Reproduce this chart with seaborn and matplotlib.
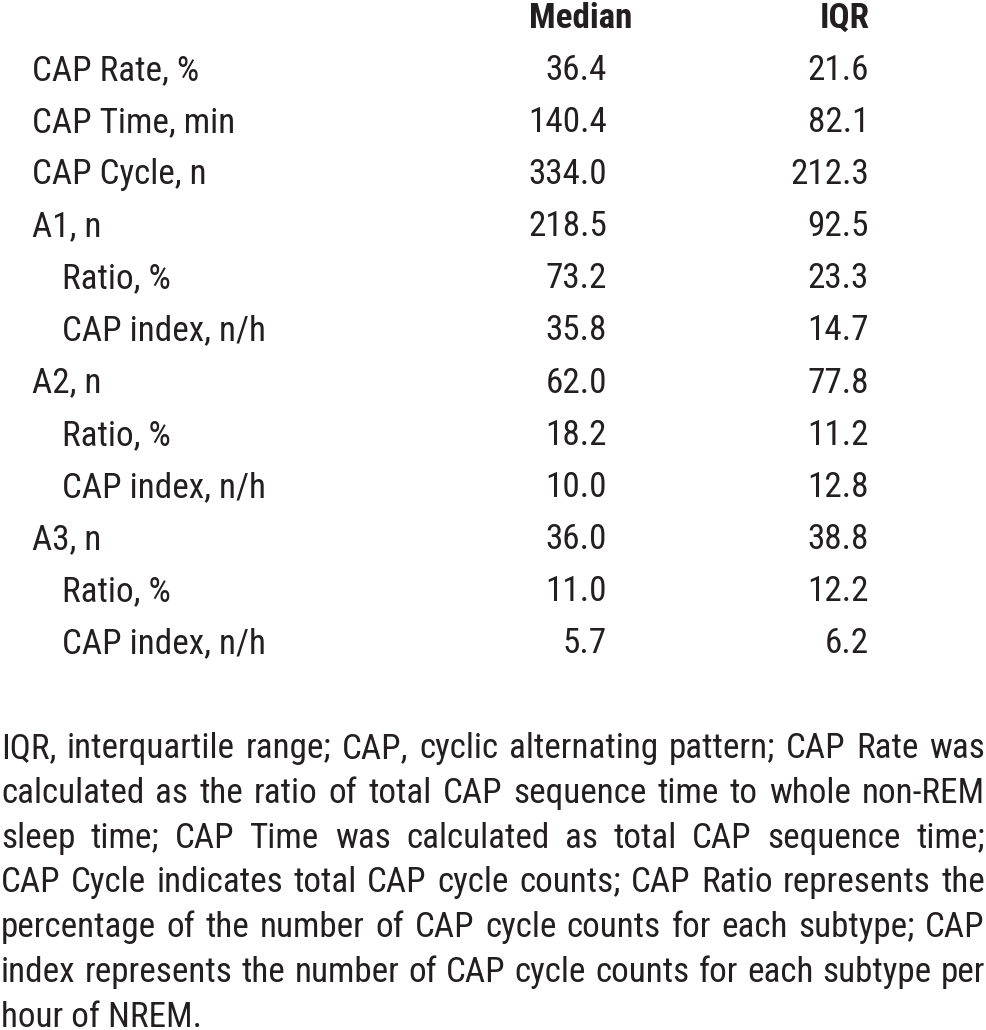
import matplotlib
matplotlib.use("Agg")
import matplotlib.pyplot as plt
import seaborn as sns

# table content
row_labels = ["CAP Rate, %", "CAP Time, min", "CAP Cycle, n", "A1, n", "Ratio, %", "CAP index, n/h",
              "A2, n", "Ratio, %", "CAP index, n/h", "A3, n", "Ratio, %", "CAP index, n/h"]
row_indent = [0, 0, 0, 0, 1, 1, 0, 1, 1, 0, 1, 1]
median_vals = [36.4, 140.4, 334.0, 218.5, 73.2, 35.8, 62.0, 18.2, 10.0, 36.0, 11.0, 5.7]
iqr_vals = [21.6, 82.1, 212.3, 92.5, 23.3, 14.7, 77.8, 11.2, 12.8, 38.8, 12.2, 6.2]
col_headers = ["Median", "IQR"]

footnote_lines = [
    "IQR, interquartile range; CAP, cyclic alternating pattern; CAP Rate was",
    "calculated as the ratio of total CAP sequence time to whole non-REM",
    "sleep time; CAP Time was calculated as total CAP sequence time;",
    "CAP Cycle indicates total CAP cycle counts; CAP Ratio represents the",
    "percentage of the number of CAP cycle counts for each subtype; CAP",
    "index represents the number of CAP cycle counts for each subtype per",
    "hour of NREM.",
]

sns.set_theme(style="white")
plt.rcParams["font.family"] = ["Roboto Condensed", "Liberation Sans", "DejaVu Sans"]

INK = "#231f20"
W, H = 986, 1030
fig = plt.figure(figsize=(W / 100, H / 100), dpi=100)
ax = fig.add_axes([0, 0, 1, 1])
ax.set_xlim(0, W)
ax.set_ylim(H, 0)
ax.axis("off")

fs = 25.3

# header
ax.text(632, 28, col_headers[0], ha="right", va="baseline", fontsize=fs, fontweight="bold", color=INK)
ax.text(870, 28, col_headers[1], ha="right", va="baseline", fontsize=fs, fontweight="bold", color=INK)

# rows
for i, (lab, ind, m, q) in enumerate(zip(row_labels, row_indent, median_vals, iqr_vals)):
    y = 80 + i * 52.1
    ax.text(32 + 30 * ind, y, lab, ha="left", va="baseline", fontsize=fs, color=INK)
    ax.text(607, y, f"{m:.1f}", ha="right", va="baseline", fontsize=fs, color=INK)
    ax.text(869, y, f"{q:.1f}", ha="right", va="baseline", fontsize=fs, color=INK)

# justified footnote
fig.canvas.draw()
renderer = fig.canvas.get_renderer()
left, right = 1, 985
for k, line in enumerate(footnote_lines):
    y = 758 + k * 44.8
    words = line.split()
    if k == len(footnote_lines) - 1:
        ax.text(left, y, line, ha="left", va="baseline", fontsize=fs, color=INK)
        continue
    objs = [ax.text(0, y, w, ha="left", va="baseline", fontsize=fs, color=INK) for w in words]
    widths = [o.get_window_extent(renderer).width for o in objs]
    gap = (right - left - sum(widths)) / (len(words) - 1)
    if gap < 6:
        # shrink the line a little so the words keep a visible gap
        scale = (right - left - 6 * (len(words) - 1)) / sum(widths)
        for o in objs:
            o.set_fontsize(fs * scale)
        widths = [w * scale for w in widths]
        gap = 6
    x = left
    for o, w in zip(objs, widths):
        o.set_x(x)
        x += w + gap

fig.savefig("out.png", dpi=100, facecolor="white")
